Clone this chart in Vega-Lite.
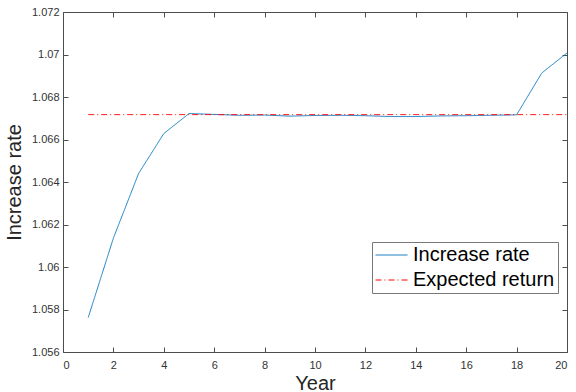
{
  "$schema": "https://vega.github.io/schema/vega-lite/v6.json",
  "width": 504,
  "height": 340,
  "autosize": "none",
  "padding": {"left": 63, "top": 12, "right": 9, "bottom": 40},
  "background": "white",
  "config": {
    "view": {"stroke": null},
    "font": "Liberation Sans",
    "axis": {
      "grid": false,
      "domainColor": "#4d4d4d",
      "domainWidth": 1,
      "tickColor": "#4d4d4d",
      "tickWidth": 1,
      "tickSize": -5,
      "labelFont": "Liberation Sans",
      "labelFontSize": 11,
      "labelColor": "#333333",
      "titleFont": "Liberation Sans",
      "titleFontSize": 20,
      "titleFontWeight": "normal",
      "titleColor": "#262626"
    }
  },
  "data": {
    "values": [
      {"year": 1, "value": 1.05762, "series": "Increase rate"},
      {"year": 2, "value": 1.06136, "series": "Increase rate"},
      {"year": 3, "value": 1.0644, "series": "Increase rate"},
      {"year": 4, "value": 1.06628, "series": "Increase rate"},
      {"year": 5, "value": 1.06722, "series": "Increase rate"},
      {"year": 6, "value": 1.06718, "series": "Increase rate"},
      {"year": 7, "value": 1.06714, "series": "Increase rate"},
      {"year": 8, "value": 1.06715, "series": "Increase rate"},
      {"year": 9, "value": 1.0671, "series": "Increase rate"},
      {"year": 10, "value": 1.06713, "series": "Increase rate"},
      {"year": 11, "value": 1.06714, "series": "Increase rate"},
      {"year": 12, "value": 1.06712, "series": "Increase rate"},
      {"year": 13, "value": 1.06708, "series": "Increase rate"},
      {"year": 14, "value": 1.06708, "series": "Increase rate"},
      {"year": 15, "value": 1.06711, "series": "Increase rate"},
      {"year": 16, "value": 1.06712, "series": "Increase rate"},
      {"year": 17, "value": 1.06714, "series": "Increase rate"},
      {"year": 18, "value": 1.06716, "series": "Increase rate"},
      {"year": 19, "value": 1.06913, "series": "Increase rate"},
      {"year": 20, "value": 1.07007, "series": "Increase rate"},
      {"year": 1, "value": 1.06717, "series": "Expected return"},
      {"year": 20, "value": 1.06717, "series": "Expected return"}
    ]
  },
  "layer": [
    {
      "mark": {"type": "line", "strokeWidth": 0.9},
      "encoding": {
        "x": {
          "field": "year", "type": "quantitative",
          "scale": {"domain": [0, 20], "nice": false, "zero": false},
          "axis": {"orient": "bottom", "values": [0,2,4,6,8,10,12,14,16,18,20], "title": "Year", "labelPadding": 12, "titlePadding": 3}
        },
        "y": {
          "field": "value", "type": "quantitative",
          "scale": {"domain": [1.056, 1.072], "nice": false, "zero": false},
          "axis": {"orient": "left", "values": [1.056,1.058,1.06,1.062,1.064,1.066,1.068,1.07,1.072], "format": ".4~g", "title": "Increase rate", "labelPadding": 9, "titlePadding": 7}
        },
        "color": {
          "field": "series", "type": "nominal",
          "scale": {"domain": ["Increase rate", "Expected return"], "range": ["#0072BD", "#FF0000"]},
          "legend": {"orient": "none", "legendX": 309, "legendY": 230, "title": null, "labelFontSize": 20, "labelColor": "#000000", "labelFont": "Liberation Sans", "symbolType": "stroke", "symbolSize": 1024, "symbolStrokeWidth": 1, "clipHeight": 20, "padding": 3, "rowPadding": 5, "labelOffset": 5, "strokeColor": "#777777", "fillColor": "white"}
        },
        "strokeDash": {
          "field": "series", "type": "nominal",
          "scale": {"domain": ["Increase rate", "Expected return"], "range": [[1, 0], [6, 3, 1, 3]]},
          "legend": {"orient": "none", "legendX": 309, "legendY": 230, "title": null, "labelFontSize": 20, "labelColor": "#000000", "labelFont": "Liberation Sans", "symbolType": "stroke", "symbolSize": 1024, "symbolStrokeWidth": 1, "clipHeight": 20, "padding": 3, "rowPadding": 5, "labelOffset": 5, "strokeColor": "#777777", "fillColor": "white"}
        }
      }
    },
    {
      "mark": {"type": "line", "opacity": 0},
      "encoding": {
        "x": {
          "field": "year", "type": "quantitative",
          "scale": {"domain": [0, 20], "nice": false, "zero": false},
          "axis": {"orient": "top", "values": [0,2,4,6,8,10,12,14,16,18,20], "labels": false, "title": null}
        },
        "y": {
          "field": "value", "type": "quantitative",
          "scale": {"domain": [1.056, 1.072], "nice": false, "zero": false},
          "axis": {"orient": "right", "values": [1.056,1.058,1.06,1.062,1.064,1.066,1.068,1.07,1.072], "labels": false, "title": null}
        }
      }
    }
  ],
  "resolve": {"axis": {"x": "independent", "y": "independent"}}
}
